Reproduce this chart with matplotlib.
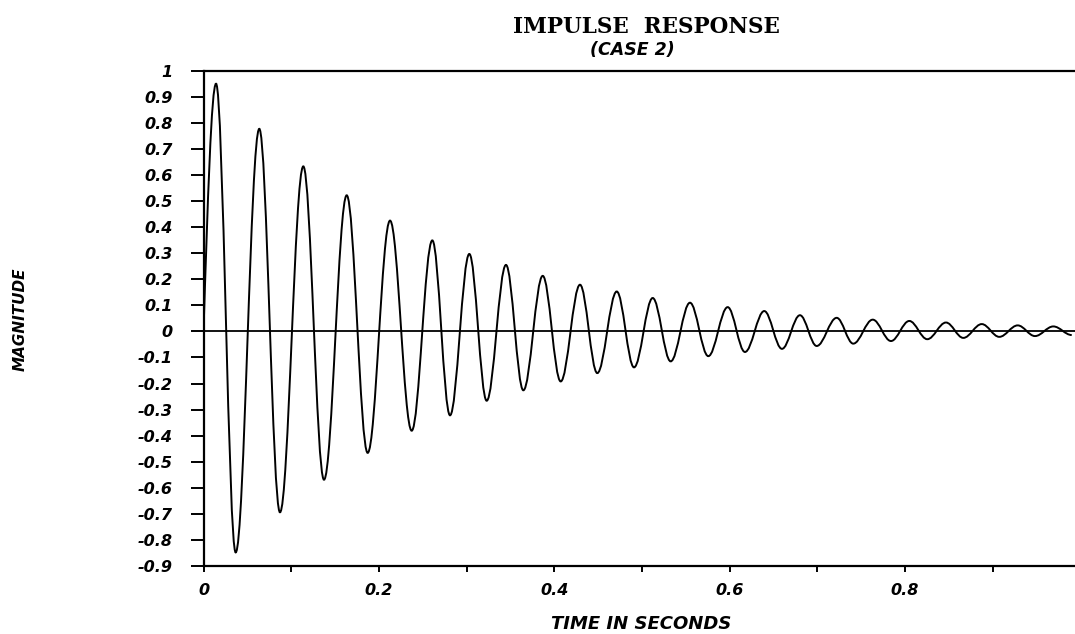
import matplotlib
matplotlib.use("Agg")
import matplotlib.pyplot as plt
import numpy as np
from matplotlib.patches import PathPatch
from matplotlib.path import Path


# 读图得到的极值点（时间，幅值），曲线从 (0, 0) 开始
start_time = 0.0
start_value = 0.0
extremum_times = [
    0.0143, 0.0367, 0.0636, 0.0872, 0.1138, 0.1374, 0.1633, 0.1872,
    0.2127, 0.2374, 0.2609, 0.2811, 0.3031, 0.3229, 0.3449, 0.3647,
    0.3868, 0.4073, 0.4293, 0.4490, 0.4712, 0.4909, 0.5122, 0.5327,
    0.5547, 0.5756, 0.5977, 0.6174, 0.6394, 0.6596, 0.6801, 0.6992,
    0.7220, 0.7409, 0.7631, 0.7839, 0.8048, 0.8253, 0.8466, 0.8664,
    0.8874, 0.9074, 0.9284, 0.9481, 0.9690, 0.9900,
]
extremum_values = [
    0.950, -0.848, 0.777, -0.694, 0.633, -0.569, 0.522, -0.466,
    0.425, -0.381, 0.349, -0.322, 0.297, -0.266, 0.255, -0.226,
    0.213, -0.192, 0.179, -0.160, 0.153, -0.138, 0.128, -0.115,
    0.110, -0.095, 0.093, -0.079, 0.078, -0.067, 0.062, -0.056,
    0.052, -0.047, 0.045, -0.037, 0.040, -0.030, 0.034, -0.025,
    0.028, -0.021, 0.023, -0.018, 0.019, -0.014,
]

y_tick_values = [-0.9, -0.8, -0.7, -0.6, -0.5, -0.4, -0.3, -0.2, -0.1, 0.0,
                 0.1, 0.2, 0.3, 0.4, 0.5, 0.6, 0.7, 0.8, 0.9, 1.0]
y_tick_labels = ["-0.9", "-0.8", "-0.7", "-0.6", "-0.5", "-0.4", "-0.3", "-0.2", "-0.1", "0",
                 "0.1", "0.2", "0.3", "0.4", "0.5", "0.6", "0.7", "0.8", "0.9", "1"]
x_tick_values = [0.0, 0.1, 0.2, 0.3, 0.4, 0.5, 0.6, 0.7, 0.8, 0.9]
x_tick_labels = ["0", "", "0.2", "", "0.4", "", "0.6", "", "0.8", ""]

title_text = "IMPULSE  RESPONSE"
subtitle_text = "(CASE 2)"
x_label_text = "TIME IN SECONDS"
y_label_text = "MAGNITUDE"

fig_w_px, fig_h_px = 1075, 634


def build_response_path(times, values):
    """极值之间用水平切线的三次贝塞尔曲线连接（近似半个余弦）。"""
    verts = [(start_time, start_value)]
    codes = [Path.MOVETO]

    # 第一段：从零点到第一个峰值，四分之一正弦
    dx = times[0] - start_time
    dy = values[0] - start_value
    verts += [
        (start_time + 0.326 * dx, start_value + 0.512 * dy),
        (start_time + 0.638 * dx, values[0]),
        (times[0], values[0]),
    ]
    codes += [Path.CURVE4] * 3

    k = 1.0 - 2.0 / np.pi
    for i in range(1, len(times)):
        x0, y0 = times[i - 1], values[i - 1]
        x1, y1 = times[i], values[i]
        a = (x1 - x0) * k
        verts += [(x0 + a, y0), (x1 - a, y1), (x1, y1)]
        codes += [Path.CURVE4] * 3

    return Path(verts, codes)


def main():
    plt.rcParams["axes.unicode_minus"] = False
    plt.rcParams["font.family"] = ["DejaVu Sans"]

    fig = plt.figure(figsize=(fig_w_px / 100, fig_h_px / 100), dpi=100)

    left_px, top_px, bottom_px = 203.5, 70.7, 566.0
    ax = fig.add_axes([
        left_px / fig_w_px,
        1 - bottom_px / fig_h_px,
        1 - left_px / fig_w_px,
        (bottom_px - top_px) / fig_h_px,
    ])

    ax.set_xlim(0, (fig_w_px - left_px) / 877.0)
    ax.set_ylim(-0.9, 1.0)

    for side in ["left", "bottom", "top"]:
        ax.spines[side].set_linewidth(1.6)
        ax.spines[side].set_color("black")
    ax.spines["right"].set_visible(False)

    ax.axhline(0, color="black", lw=1.3, zorder=2)

    path = build_response_path(extremum_times, extremum_values)
    ax.add_patch(PathPatch(path, fill=False, edgecolor="black", lw=1.4, zorder=3))

    tick_font = dict(family="DejaVu Sans", weight="bold", style="italic", size=11.5)
    ax.set_yticks(y_tick_values)
    ax.set_yticklabels(y_tick_labels, **tick_font)
    ax.set_xticks(x_tick_values)
    ax.set_xticklabels(x_tick_labels, **tick_font)
    ax.tick_params(axis="y", direction="out", length=9.4, width=1.4, pad=13)
    ax.tick_params(axis="x", direction="out", length=4.3, width=1.4, pad=8)

    fig.text(646 / fig_w_px, 1 - 33 / fig_h_px, title_text,
             family="DejaVu Serif", weight="bold", size=15.5,
             ha="center", va="baseline")
    fig.text(632 / fig_w_px, 1 - 55 / fig_h_px, subtitle_text,
             family="DejaVu Sans", weight="bold", style="italic", size=12.5,
             ha="center", va="baseline")
    fig.text(641 / fig_w_px, 1 - 629 / fig_h_px, x_label_text,
             family="DejaVu Sans", weight="bold", style="italic", size=13,
             ha="center", va="baseline")
    fig.text(20 / fig_w_px, 1 - 319 / fig_h_px, y_label_text,
             family="DejaVu Sans", weight="bold", style="italic", size=11,
             ha="center", va="center", rotation=90)

    fig.savefig("out.png", dpi=100)
    plt.close(fig)


if __name__ == "__main__":
    main()
